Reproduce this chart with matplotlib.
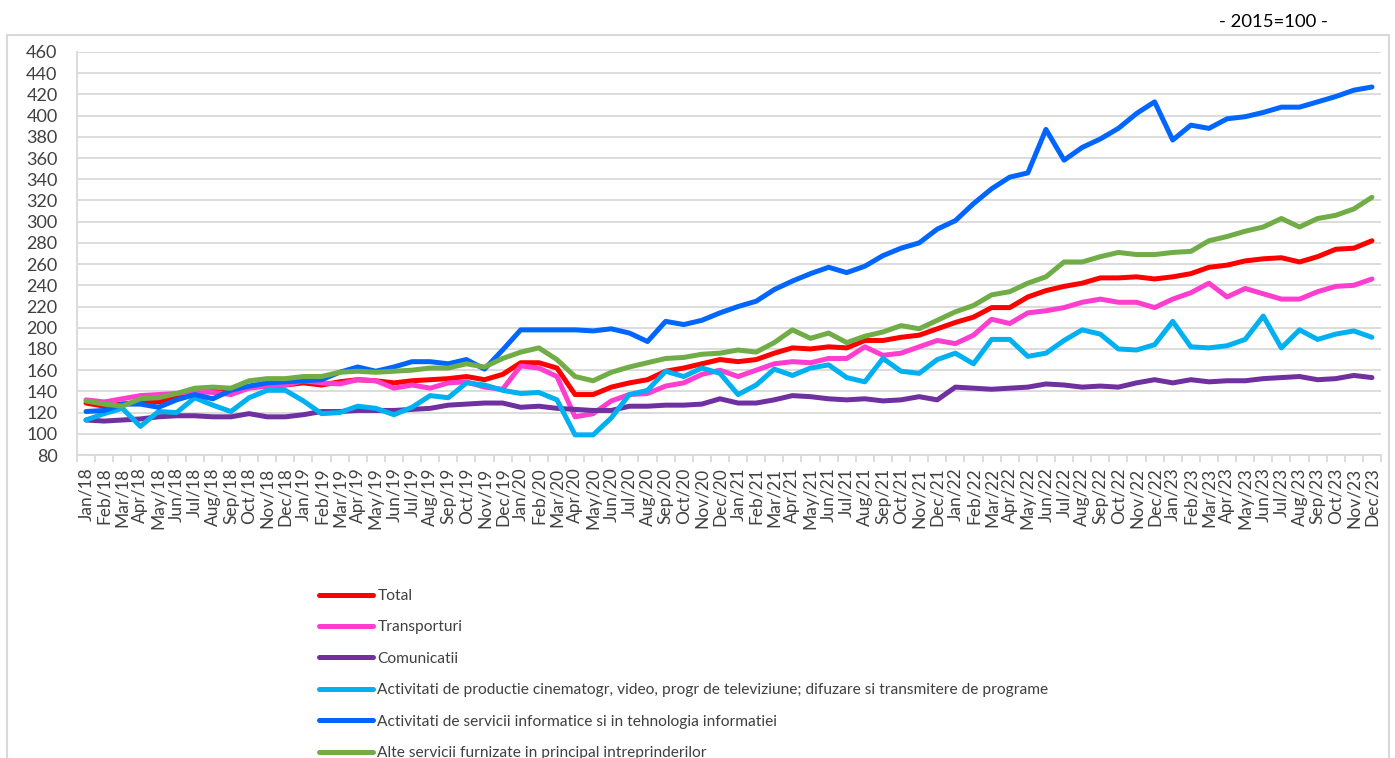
import matplotlib
matplotlib.use('Agg')
import matplotlib.pyplot as plt
from matplotlib.patches import Rectangle

plt.rcParams['font.family'] = ['Lato', 'DejaVu Sans']

months = ['Jan', 'Feb', 'Mar', 'Apr', 'May', 'Jun', 'Jul', 'Aug', 'Sep', 'Oct', 'Nov', 'Dec']
years = ['18', '19', '20', '21', '22', '23']
labels = [m + '/' + y for y in years for m in months]

# indices 2015=100
total = [129, 126, 128, 130, 130, 135, 139, 140, 141, 144, 145, 146,
         148, 146, 149, 151, 150, 148, 150, 151, 152, 154, 151, 156,
         167, 167, 162, 137, 137, 144, 148, 151, 159, 162, 166, 170,
         168, 170, 176, 181, 180, 182, 181, 188, 188, 191, 193, 199,
         205, 210, 219, 219, 229, 235, 239, 242, 247, 247, 248, 246,
         248, 251, 257, 259, 263, 265, 266, 262, 267, 274, 275, 282]
transport = [132, 130, 133, 136, 137, 138, 140, 139, 137, 143, 145, 146,
             150, 148, 147, 151, 150, 143, 146, 143, 148, 149, 144, 142,
             164, 162, 154, 116, 119, 131, 137, 138, 145, 148, 156, 160,
             154, 160, 166, 168, 167, 171, 171, 182, 174, 176, 182, 188,
             185, 193, 208, 204, 214, 216, 219, 224, 227, 224, 224, 219,
             227, 233, 242, 229, 237, 232, 227, 227, 234, 239, 240, 246]
comunicatii = [113, 112, 113, 114, 116, 117, 117, 116, 116, 119, 116, 116,
               118, 121, 121, 122, 122, 122, 123, 124, 127, 128, 129, 129,
               125, 126, 124, 123, 122, 122, 126, 126, 127, 127, 128, 133,
               129, 129, 132, 136, 135, 133, 132, 133, 131, 132, 135, 132,
               144, 143, 142, 143, 144, 147, 146, 144, 145, 144, 148, 151,
               148, 151, 149, 150, 150, 152, 153, 154, 151, 152, 155, 153]
cinema = [113, 119, 124, 107, 121, 120, 134, 127, 121, 134, 141, 141,
          131, 119, 120, 126, 124, 118, 125, 136, 134, 148, 146, 141,
          138, 139, 132, 99, 99, 115, 137, 141, 159, 154, 162, 157,
          137, 146, 161, 155, 162, 165, 153, 149, 171, 159, 157, 170,
          176, 166, 189, 189, 173, 176, 188, 198, 194, 180, 179, 184,
          206, 182, 181, 183, 189, 211, 181, 198, 189, 194, 197, 191]
it_services = [121, 122, 128, 128, 125, 132, 137, 133, 141, 145, 148, 149,
               150, 151, 158, 163, 159, 163, 168, 168, 166, 170, 161, 179,
               198, 198, 198, 198, 197, 199, 195, 187, 206, 203, 207, 214,
               220, 225, 236, 244, 251, 257, 252, 258, 268, 275, 280, 293,
               301, 317, 331, 342, 346, 387, 358, 370, 378, 388, 402, 413,
               377, 391, 388, 397, 399, 403, 408, 408, 413, 418, 424, 427]
alte = [131, 128, 126, 133, 134, 138, 143, 144, 143, 150, 152, 152,
        154, 154, 158, 159, 158, 159, 160, 162, 162, 166, 163, 171,
        177, 181, 170, 154, 150, 158, 163, 167, 171, 172, 175, 176,
        179, 177, 186, 198, 190, 195, 186, 192, 196, 202, 199, 207,
        215, 221, 231, 234, 242, 248, 262, 262, 267, 271, 269, 269,
        271, 272, 282, 286, 291, 295, 303, 295, 303, 306, 312, 323]

series = [
    ('Total', total, '#FF0000'),
    ('Transporturi', transport, '#FF3DCF'),
    ('Comunicatii', comunicatii, '#7030A0'),
    ('Activitati de productie cinematogr, video, progr de televiziune; difuzare si transmitere de programe', cinema, '#00B0F0'),
    ('Activitati de servicii informatice si in tehnologia informatiei', it_services, '#0066FF'),
    ('Alte servicii furnizate in principal intreprinderilor', alte, '#70AD47'),
]

W, H = 1395, 758
fig = plt.figure(figsize=(W / 100, H / 100), dpi=100)

# outer chart border
fig.patches.append(Rectangle((7 / W, -0.05), (1389 - 7) / W, 1 - 35 / H + 0.05,
                             transform=fig.transFigure, fill=False,
                             edgecolor='#d9d9d9', linewidth=1.5))

ax = fig.add_axes([77 / W, 1 - 455 / H, (1381 - 77) / W, (455 - 52) / H])

x = list(range(len(labels)))
for name, vals, col in series:
    ax.plot(x, vals, color=col, linewidth=3.6, label=name, solid_capstyle='round',
            solid_joinstyle='round')

ax.set_xlim(-0.5, len(labels) - 0.5)
ax.set_ylim(80, 460)
ax.set_yticks(range(80, 461, 20))
ax.grid(axis='y', color='#d9d9d9', linewidth=1.3)
ax.set_axisbelow(True)

ax.set_xticks(x)
ax.set_xticklabels(labels, rotation=90, fontsize=12.5, color='#404040')
ax.set_xticks([i - 0.5 for i in range(len(labels) + 1)], minor=True)
ax.tick_params(axis='x', which='major', length=0, pad=9)
ax.tick_params(axis='x', which='minor', length=5, color='#d9d9d9', width=1.3)
ax.tick_params(axis='y', length=0, labelsize=13, labelcolor='#404040', pad=14)

for s in ['top', 'right']:
    ax.spines[s].set_visible(False)
ax.spines['left'].set_color('#d9d9d9')
ax.spines['bottom'].set_color('#d9d9d9')
ax.spines['left'].set_linewidth(1.3)
ax.spines['bottom'].set_linewidth(1.3)

fig.text(1273 / W, 1 - 22 / H, '- 2015=100 -', ha='center', va='center', fontsize=13.3)

handles, names = ax.get_legend_handles_labels()
leg = fig.legend(handles, names, loc='upper left', bbox_to_anchor=(319 / W, 1 - 589 / H),
                 frameon=False, fontsize=11.2, handlelength=3.5, handletextpad=0.25,
                 labelspacing=1.12, borderaxespad=0, borderpad=0)
for t in leg.get_texts():
    t.set_color('#404040')

fig.savefig('out.png', dpi=100)
